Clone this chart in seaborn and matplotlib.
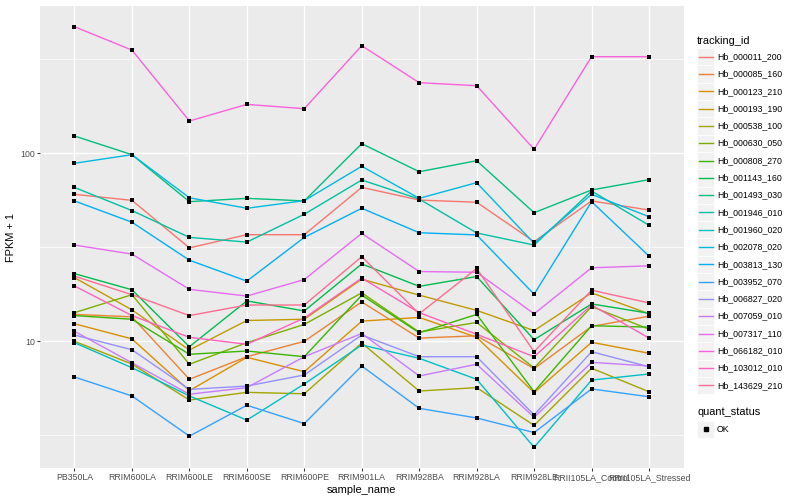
import numpy as np
import pandas as pd
import matplotlib
matplotlib.use("Agg")
import matplotlib.pyplot as plt
import seaborn as sns
from matplotlib.patches import Rectangle
from matplotlib.ticker import NullFormatter, FixedFormatter

# Samples on the x axis
samples = ['PB350LA', 'RRIM600LA', 'RRIM600LE', 'RRIM600SE', 'RRIM600PE', 'RRIM901LA',
           'RRIM928BA', 'RRIM928LA', 'RRIM928LE', 'RRII105LA_Control', 'RRII105LA_Stressed']

# FPKM + 1 per gene (same sample order as above)
hb_000011_200 = [60.5, 56.2, 31.4, 36.9, 36.9, 65.9, 56.4, 54.9, 33.9, 55.8, 49.9]
hb_000085_160 = [13.9, 13.5, 6.28, 8.28, 10.0, 16.2, 10.4, 10.7, 7.15, 12.0, 13.6]
hb_000123_210 = [12.4, 10.3, 5.46, 8.22, 6.89, 12.8, 13.4, 10.5, 5.33, 9.88, 8.64]
hb_000193_190 = [21.8, 14.7, 8.99, 12.9, 13.1, 21.4, 17.6, 14.6, 11.4, 18.1, 14.0]
hb_000538_100 = [10.0, 7.57, 4.87, 5.35, 5.26, 9.79, 5.44, 5.67, 3.57, 7.19, 5.39]
hb_000630_050 = [14.2, 17.7, 7.55, 9.83, 12.3, 18.1, 11.2, 12.6, 7.21, 15.3, 11.6]
hb_000808_270 = [13.7, 13.1, 8.53, 8.88, 8.28, 17.6, 11.1, 13.9, 5.39, 12.1, 11.9]
hb_001143_160 = [22.9, 18.8, 9.36, 16.4, 14.5, 25.8, 19.6, 22.1, 10.2, 15.8, 14.1]
hb_001493_030 = [123.6, 98.3, 55.3, 57.6, 55.8, 112.5, 79.8, 91.3, 48.3, 63.8, 72.4]
hb_001946_010 = [65.8, 49.6, 35.7, 33.7, 47.4, 72.1, 57.1, 37.7, 32.5, 63.0, 41.4]
hb_001960_020 = [9.83, 7.24, 5.12, 3.81, 5.93, 9.56, 8.12, 6.28, 2.73, 6.22, 6.70]
hb_002078_020 = [88.5, 98.3, 58.0, 51.0, 56.0, 85.3, 57.6, 69.8, 33.2, 60.5, 46.0]
hb_003813_130 = [55.8, 43.0, 27.0, 20.9, 35.7, 51.0, 37.8, 36.8, 17.8, 55.3, 28.4]
hb_003952_070 = [6.46, 5.12, 3.13, 4.57, 3.65, 7.39, 4.40, 3.91, 3.27, 5.58, 5.07]
hb_006827_020 = [10.8, 9.02, 5.55, 5.78, 6.62, 10.8, 8.28, 8.28, 4.06, 8.80, 7.32]
hb_007059_010 = [11.3, 7.69, 5.23, 5.67, 8.28, 11.0, 6.54, 7.55, 3.94, 7.73, 7.39]
hb_007317_110 = [32.5, 29.1, 18.9, 17.4, 21.3, 37.5, 23.5, 23.3, 14.0, 24.6, 25.2]
hb_066182_010 = [471.0, 354.0, 148.5, 182.0, 172.7, 373.6, 237.4, 228.9, 105.0, 326.4, 326.4]
hb_103012_010 = [19.7, 13.7, 10.5, 9.64, 13.3, 21.7, 14.2, 10.9, 8.28, 15.6, 10.4]
hb_143629_210 = [22.2, 17.7, 13.7, 15.6, 15.6, 28.2, 14.0, 24.4, 8.80, 18.7, 16.0]

tracking_ids = ['Hb_000011_200', 'Hb_000085_160', 'Hb_000123_210', 'Hb_000193_190',
                'Hb_000538_100', 'Hb_000630_050', 'Hb_000808_270', 'Hb_001143_160',
                'Hb_001493_030', 'Hb_001946_010', 'Hb_001960_020', 'Hb_002078_020',
                'Hb_003813_130', 'Hb_003952_070', 'Hb_006827_020', 'Hb_007059_010',
                'Hb_007317_110', 'Hb_066182_010', 'Hb_103012_010', 'Hb_143629_210']
series = [hb_000011_200, hb_000085_160, hb_000123_210, hb_000193_190, hb_000538_100,
          hb_000630_050, hb_000808_270, hb_001143_160, hb_001493_030, hb_001946_010,
          hb_001960_020, hb_002078_020, hb_003813_130, hb_003952_070, hb_006827_020,
          hb_007059_010, hb_007317_110, hb_066182_010, hb_103012_010, hb_143629_210]

# ggplot2 default hue palette for 20 levels
hue_colors = ["#F8766D", "#EA8331", "#D89000", "#C09B00", "#A3A500", "#7CAE00", "#39B600",
              "#00BB4E", "#00BF7D", "#00C1A3", "#00BFC4", "#00BAE0", "#00B0F6", "#35A2FF",
              "#9590FF", "#C77CFF", "#E76BF3", "#FA62DB", "#FF62BC", "#FF6C91"]

rows = []
for tid, vals in zip(tracking_ids, series):
    for s, v in zip(samples, vals):
        rows.append({'tracking_id': tid, 'sample_name': s, 'fpkm1': v, 'quant_status': 'OK'})
df = pd.DataFrame(rows)

plt.rcParams['font.family'] = ['Liberation Sans', 'DejaVu Sans']

fig = plt.figure(figsize=(8, 5), dpi=100)
ax = fig.add_axes([40 / 800, 1 - 468.4 / 500, (683.5 - 40) / 800, (468.4 - 5.7) / 500])
ax.set_facecolor('#EBEBEB')

sns.lineplot(data=df, x='sample_name', y='fpkm1', hue='tracking_id', palette=hue_colors,
             hue_order=tracking_ids, sort=False, estimator=None, linewidth=1.0,
             legend=False, ax=ax)
sns.scatterplot(data=df, x='sample_name', y='fpkm1', color='black', marker='s', s=7,
                linewidth=0, legend=False, ax=ax, zorder=5)

ax.set_yscale('log')
ax.set_ylim(10 ** 0.324, 10 ** 2.785)
ax.set_xlim(-0.6, len(samples) - 0.4)
ax.set_yticks([10, 100])
ax.yaxis.set_major_formatter(FixedFormatter(['10', '100']))
ax.set_yticks([10 ** 0.5, 10 ** 1.5, 10 ** 2.5], minor=True)
ax.yaxis.set_minor_formatter(NullFormatter())
ax.set_xticks(range(len(samples)))
ax.set_xticklabels(samples)

ax.grid(which='major', color='white', linewidth=1.0)
ax.grid(which='minor', axis='y', color='white', linewidth=0.5)
ax.set_axisbelow(True)
for sp in ax.spines.values():
    sp.set_visible(False)
ax.tick_params(which='major', length=2.0, width=0.75, color='#333333',
               labelcolor='#4D4D4D', labelsize=6.3, pad=1.5)
ax.tick_params(which='minor', length=0)
ax.set_xlabel('sample_name', fontsize=7.9, labelpad=2)
ax.set_ylabel('FPKM + 1', fontsize=7.9, labelpad=3)

# legends drawn ggplot-style on a pixel overlay
lax = fig.add_axes([0, 0, 1, 1], zorder=-1)
lax.set_xlim(0, 800)
lax.set_ylim(500, 0)
lax.axis('off')

lax.text(697, 40.7, 'tracking_id', fontsize=7.9, va='center', ha='left')
for i, (tid, col) in enumerate(zip(tracking_ids, hue_colors)):
    yc = 56.7 + i * 17.3
    lax.add_patch(Rectangle((697, yc - 8.6), 17.3, 17.3, facecolor='#F2F2F2',
                            edgecolor='white', linewidth=0.5))
    lax.plot([698.7, 712.6], [yc, yc], color=col, linewidth=1.0)
    lax.text(716.8, yc, tid, fontsize=6.3, va='center', ha='left')

lax.text(697, 412.3, 'quant_status', fontsize=7.9, va='center', ha='left')
lax.add_patch(Rectangle((697, 429.3 - 8.6), 17.3, 17.3, facecolor='#F2F2F2',
                        edgecolor='white', linewidth=0.5))
lax.plot([705.6], [429.3], marker='s', color='black', markersize=2.4, linestyle='none')
lax.text(716.8, 429.3, 'OK', fontsize=6.3, va='center', ha='left')

fig.savefig('out.png', dpi=100, facecolor='white')
